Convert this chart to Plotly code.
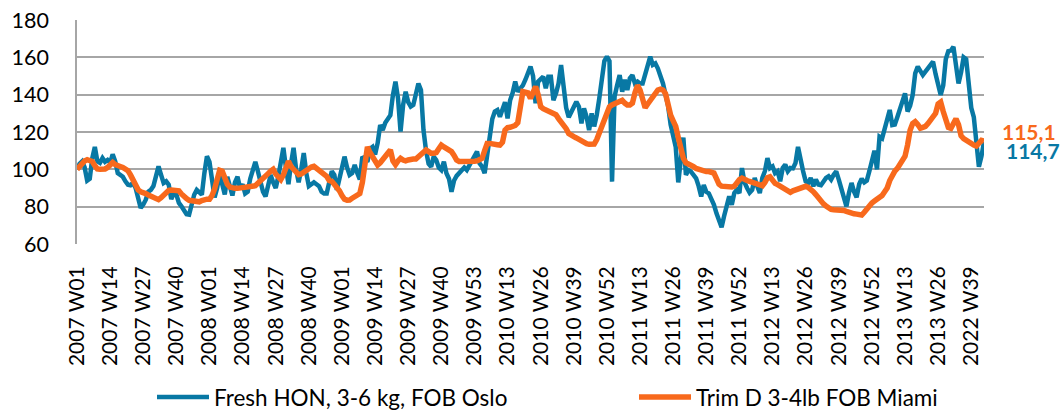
import plotly.graph_objects as go

# Weekly price index, 2007 W01 = 100
week_index = list(range(357))

fresh_hon_oslo = [
    100, 103, 104.3, 101, 94, 95, 106, 112, 104.3, 103.5,
    106, 104, 105, 103.5, 108, 104.3, 98, 97, 96, 93.6,
    91.8, 91.5, 92.7, 90, 83.75, 79.3, 81.1, 83.75, 88, 89,
    91, 96, 101.6, 97, 92.7, 93.6, 91.8, 84, 87.3, 86.5,
    82, 80.2, 77.5, 76, 75.7, 81, 86.4, 89, 88, 86.4,
    98, 107, 104, 92, 85, 90, 98, 92, 86.5, 96,
    90, 86, 93, 96, 90, 92, 87, 88, 95, 100,
    104, 99, 94, 88, 85.5, 91, 97, 93, 90, 96,
    104, 111.5, 101, 92, 103, 111.5, 100, 93, 100, 108.7,
    98, 91, 92, 93, 92, 91, 88, 87, 87, 92,
    99, 97, 89, 95, 100, 106.8, 101, 97, 98, 102.3,
    98, 94.6, 106.8, 105, 104, 111, 112, 108, 114, 123.7,
    121, 125, 127.3, 129, 139.8, 147, 138, 120.2, 134.5, 141.6,
    136, 133.6, 134.5, 141.6, 146, 142.5, 121, 110, 103, 101.4,
    106.8, 105, 101, 99.6, 104.1, 97.9, 95, 88, 94, 96.5,
    97.9, 99, 101, 99.6, 101.8, 104, 107, 109.5, 103.2, 101.4,
    98, 106.8, 115.7, 127, 131, 131.8, 128.2, 132.7, 136, 127.3,
    137, 141, 147, 141.6, 143, 145, 148, 151, 155, 150,
    135.4, 147, 148.75, 149.6, 143.4, 149.6, 149.6, 137, 140.7, 146,
    155.9, 146, 133, 127.9, 131, 133.6, 136.25, 133.6, 124.6, 132.7,
    128.2, 121, 130, 123, 129, 138, 148, 158, 160.4, 158,
    93.4, 139, 145, 150.5, 141.6, 148, 142.5, 148.75, 150.5, 146,
    147, 146, 146, 151, 156, 160.4, 156, 156.8, 154, 150,
    146, 140, 134, 124, 118, 112, 93, 108, 117, 97,
    99.6, 98.75, 97, 95.2, 91, 85.4, 91.6, 88, 87.1, 84,
    81, 76.4, 73, 69, 75, 80.2, 85.5, 81, 87.3, 89.1,
    87.3, 100.7, 93, 90, 87.5, 89, 95.4, 90.9, 87.3, 95.4,
    99, 106, 100.7, 101.6, 98, 99, 93.6, 100.7, 102.5, 99,
    100.7, 100.5, 103.4, 112, 104, 99, 93.6, 92.7, 95.4, 90.9,
    94.5, 91.8, 91.5, 93.6, 95.4, 96.25, 94.5, 97.1, 98.9, 94.5,
    89.1, 83.75, 80.2, 87.3, 92.7, 88, 85, 92, 95, 93,
    94, 99, 105, 110, 100, 117.5, 116.6, 122, 128.2, 131.8,
    123.75, 124, 128, 132, 137, 140.7, 131, 134, 139.8, 151.4,
    155, 153.2, 150.5, 152.3, 154, 155.5, 157.7, 151, 144.3, 139.8,
    145, 159, 163.3, 163.6, 165.7, 156.8, 146, 152, 160, 159,
    147, 133, 128, 117, 101.4, 107, 114.7,
]

trim_d_miami = [
    100, 101.5, 103.4, 104.5, 105.2, 105, 104.2, 102, 100.2, 100,
    100, 100.2, 101, 102.8, 103.7, 102.5, 101.6, 101.5, 101, 100.2,
    99.3, 97, 94, 90.5, 89, 88, 87.7, 87, 86.3, 85.5,
    84.6, 84.2, 83.75, 84.8, 86, 87.5, 88.75, 88.9, 88.9, 88.8,
    88.5, 86.8, 85.2, 84.3, 83.4, 83.2, 82.9, 82.7, 82.6, 83.3,
    83.8, 84, 84, 86, 89.5, 94.5, 99.5, 99, 95, 92,
    90.5, 90, 89.8, 89.8, 90, 90.2, 90.5, 90.8, 91, 91,
    91.2, 92.5, 93.6, 95, 96.3, 97.7, 99, 100, 97.5, 95.5,
    94.5, 97, 102, 104.3, 101.5, 100, 98.5, 97.1, 97.5, 98.5,
    99.5, 100.7, 101.2, 101.6, 100.5, 99.5, 98.9, 98, 96.3, 94,
    93.5, 92, 90.5, 88.5, 86, 84, 83.5, 83.6, 84.5, 85.4,
    86, 87, 93, 105, 112, 109, 106.8, 104, 102.3, 103.5,
    105, 106.5, 108, 110.4, 104.5, 102.5, 104.5, 105.9, 105, 104.5,
    105, 105.5, 105.5, 105.5, 106.5, 107.7, 109, 110.4, 109.5, 108.6,
    108.6, 109, 111, 113, 112, 111, 110, 109.5, 107.5, 105,
    104.2, 104.1, 104.1, 104.1, 104.1, 104.2, 104.3, 104.5, 105, 105.9,
    110, 113.9, 113.9, 113.9, 113.5, 113.2, 113, 114.5, 121, 122.3,
    122.5, 122.8, 123.5, 125, 136, 141.6, 141.3, 141, 138, 141,
    144.3, 140, 133.6, 132.5, 131.8, 131.3, 130.9, 130, 129.3, 127.2,
    125.5, 123.8, 121.8, 119.2, 118, 117.5, 116.8, 115.8, 114.8, 114,
    113.7, 113.4, 113.5, 113.5, 116, 119.5, 124, 128, 131, 133.5,
    134.5, 135, 135.5, 136.5, 137, 135.5, 134.5, 134.5, 135.5, 141,
    145, 142.5, 137, 133, 135, 137, 139.5, 141.5, 142.5, 143,
    142.5, 140.5, 134.5, 129, 126, 123, 117, 110, 106, 103.5,
    103, 102.5, 101.5, 100.5, 100, 99.5, 99, 98.8, 98.8, 98.5,
    98, 95, 92, 91, 90.7, 90.5, 90.5, 90.5, 91, 93,
    94.5, 95.3, 95, 94, 93.5, 93, 92.5, 92, 91.5, 91.2,
    93, 95.5, 96, 94, 92.5, 91.8, 90.8, 90, 89, 88,
    87.7, 88.5, 89.1, 89.8, 90.4, 90.8, 90.9, 90.3, 89.5, 88,
    86.5, 84.5, 83, 81.5, 80.3, 79.3, 78.5, 78.3, 78.3, 78.3,
    78.2, 78, 77.5, 76.8, 76.5, 76.2, 76, 75.8, 75.5, 77,
    79, 80.5, 82, 83, 84, 85, 86, 88, 90, 94,
    97, 99, 100.5, 102.5, 104.5, 107, 113, 121, 124.5, 125.5,
    124, 122, 122.5, 123, 124.5, 126, 128, 130, 135, 136,
    131, 127, 122.5, 122, 125, 127, 124, 118, 116.5, 115.5,
    114.8, 114, 113, 112.5, 114, 115.5, 115.1,
]

tick_positions = list(range(0, 352, 13))
tick_labels = [
    "2007 W01", "2007 W14", "2007 W27", "2007 W40",
    "2008 W01", "2008 W14", "2008 W27", "2008 W40",
    "2009 W01", "2009 W14", "2009 W27", "2009 W40", "2009 W53",
    "2010 W13", "2010 W26", "2010 W39", "2010 W52",
    "2011 W13", "2011 W26", "2011 W39", "2011 W52",
    "2012 W13", "2012 W26", "2012 W39", "2012 W52",
    "2013 W13", "2013 W26", "2022 W39",
]

series_names = ["Fresh HON, 3-6 kg, FOB Oslo", "Trim D 3-4lb FOB Miami"]
BLUE = "#0878A4"
ORANGE = "#F8691C"
FONT = "Lato, 'Open Sans', sans-serif"

fig = go.Figure()
fig.add_trace(go.Scatter(
    x=week_index, y=fresh_hon_oslo, mode="lines", name=series_names[0],
    line=dict(color=BLUE, width=4.5), legend="legend",
))
fig.add_trace(go.Scatter(
    x=week_index, y=trim_d_miami, mode="lines", name=series_names[1],
    line=dict(color=ORANGE, width=5.5), legend="legend2",
))

# Latest values printed at the right end of each line
last = week_index[-1]
fig.add_annotation(
    x=last, y=trim_d_miami[-1], text=f"<b>{trim_d_miami[-1]:.1f}</b>".replace(".", ","),
    showarrow=False, xanchor="left", yanchor="middle", xshift=16, yshift=10,
    font=dict(family=FONT, size=21, color=ORANGE),
)
fig.add_annotation(
    x=last, y=fresh_hon_oslo[-1], text=f"<b>{fresh_hon_oslo[-1]:.1f}</b>".replace(".", ","),
    showarrow=False, xanchor="left", yanchor="middle", xshift=20, yshift=-9,
    font=dict(family=FONT, size=21, color=BLUE),
)

legend_style = dict(
    orientation="h", xref="container", yref="container",
    y=0.033, xanchor="left", yanchor="middle",
    font=dict(family=FONT, size=22.5, color="#000000"),
    itemwidth=52, bgcolor="rgba(0,0,0,0)",
)

fig.update_layout(
    width=1064, height=411,
    margin=dict(l=77, r=80, t=20, b=167, autoexpand=False),
    paper_bgcolor="white", plot_bgcolor="white",
    font=dict(family=FONT, size=21, color="#000000"),
    showlegend=True,
    legend=dict(x=152 / 1064, **legend_style),
    legend2=dict(x=634 / 1064, **legend_style),
)
fig.update_xaxes(
    range=[0, last], tickmode="array", tickvals=tick_positions, ticktext=tick_labels,
    tickangle=-90, showgrid=False, zeroline=False, showline=False, ticks="",
    ticklabelstandoff=17, tickfont=dict(family=FONT, size=21, color="#000000"),
)
fig.update_yaxes(
    range=[60, 180], dtick=20, showgrid=True, gridcolor="#A6A6A6", gridwidth=1.5,
    zeroline=False, showline=True, linecolor="#A6A6A6", linewidth=1.5, ticks="",
    ticklabelstandoff=22, tickfont=dict(family=FONT, size=21.5, color="#000000"),
)

fig.write_html("out.html")
